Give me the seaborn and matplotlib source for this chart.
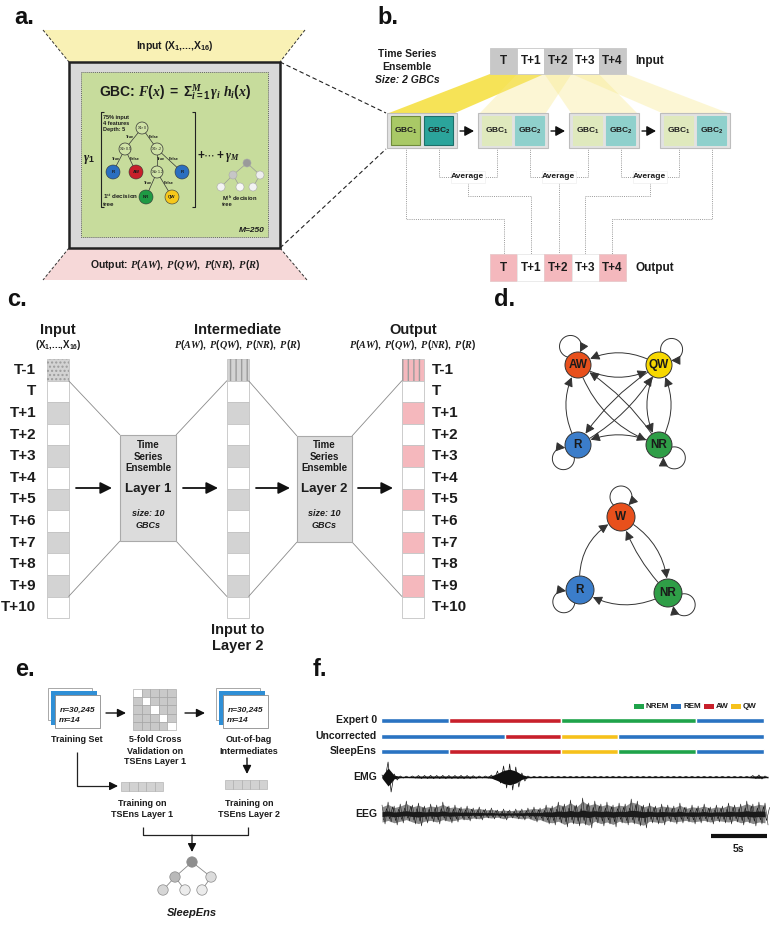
import numpy as np
import pandas as pd
import matplotlib
matplotlib.use("Agg")
import matplotlib.pyplot as plt
from matplotlib.patches import Rectangle, Polygon, Circle, FancyArrowPatch
from matplotlib.path import Path
import seaborn as sns

# ---------------- data ----------------
A_INPUT_LABEL = "Input (X$_1$,...,X$_{16}$)"
A_OUTPUT_LABEL = "Output: $P(AW),\\ P(QW),\\ P(NR),\\ P(R)$"
A_FORMULA = "GBC: $F(x)\\ =\\ \\Sigma_{i=1}^{M}\\,\\gamma_i\\ h_i(x)$"
A_TREE_PARAMS = ["75% input", "4 features", "Depth: 5"]
A_N_TREES = 250

B_CELLS = ["T", "T+1", "T+2", "T+3", "T+4"]
B_INPUT_SHADED = [1, 0, 1, 0, 1]
B_OUTPUT_SHADED = [1, 0, 1, 0, 1]
B_N_WINDOWS = 4
B_GBCS = ["GBC$_1$", "GBC$_2$"]

C_ROWS = ["T-1", "T", "T+1", "T+2", "T+3", "T+4", "T+5", "T+6", "T+7", "T+8", "T+9", "T+10"]
C_SHADED = [1, 0, 1, 0, 1, 0, 1, 0, 1, 0, 1, 0]
C_LAYERS = ["Layer 1", "Layer 2"]
C_LAYER_SIZE = [10, 10]
C_PROBS = "$P(AW),\\ P(QW),\\ P(NR),\\ P(R)$"

D_STATES_4 = ["AW", "QW", "R", "NR"]
D_EDGES_4 = [("AW", "QW", 0.3), ("QW", "AW", 0.3), ("R", "AW", -0.3), ("AW", "NR", 0.25),
             ("NR", "AW", 0.12), ("QW", "R", 0.12), ("R", "QW", 0.15), ("QW", "NR", 0.3),
             ("NR", "QW", 0.3), ("NR", "R", 0.25)]
D_STATES_3 = ["W", "R", "NR"]
D_EDGES_3 = [("R", "W", -0.35), ("W", "NR", -0.3), ("NR", "W", -0.12), ("NR", "R", -0.3)]
D_COLORS = {"AW": "#e8501c", "W": "#e8501c", "QW": "#f7d800", "R": "#3b7dca", "NR": "#2f9e47"}

E_N = "n=30,245"
E_M = "m=14"
E_FOLDS = 5

F_STAGE_NAMES = ["NREM", "REM", "AW", "QW"]
F_STAGE_COLORS = ["#1fa34a", "#2a73c2", "#c8202b", "#f6c11b"]
F_ROWS = ["Expert 0", "Uncorrected", "SleepEns"]
F_EXPERT0_STAGES = ["REM", "AW", "NREM", "REM"]
F_EXPERT0_EPOCHS = [6, 10, 12, 6]
F_UNCORR_STAGES = ["REM", "AW", "QW", "REM"]
F_UNCORR_EPOCHS = [11, 5, 5, 13]
F_SLEEPENS_STAGES = ["REM", "AW", "QW", "NREM", "REM"]
F_SLEEPENS_EPOCHS = [6, 10, 5, 7, 6]
F_EMG_AMP = [2, 15, 3, 1.0, 0.8, 1.0, 1.5, 1.5, 1.6, 1.5, 1.6, 1.5, 1.5, 1.6, 1.5, 1.3, 1.0, 1.0, 2.0, 6,
             11, 13, 10, 4, 1.0, 0.7, 0.7, 0.7, 0.7, 0.7, 0.7, 0.7, 0.7, 0.7, 0.7, 0.7, 0.7, 0.7, 0.7, 0.7,
             0.7, 0.7, 0.7, 0.7, 0.7, 0.7, 0.7, 0.7, 0.7, 0.7, 0.7, 0.7, 0.7, 0.7, 0.7, 0.7, 0.7, 0.7, 0.7, 0.7,
             0.7, 1.5, 2.0, 1.0]
F_EEG_UP = [9, 12, 8, 10, 13, 9, 11, 8, 10, 9, 12, 8, 9, 7, 8, 6, 7, 5, 6, 4,
            5, 4, 5, 5, 6, 7, 6, 9, 8, 12, 10, 14, 9, 16, 11, 13, 10, 12, 9, 11,
            10, 15, 13, 9, 11, 8, 10, 9, 8, 11, 7, 9, 8, 10, 7, 9, 8, 11, 9, 10,
            13, 10, 12, 11]
F_EEG_DN = [10, 8, 11, 9, 7, 10, 12, 9, 8, 10, 7, 9, 8, 6, 7, 5, 6, 4, 5, 4,
            6, 4, 5, 6, 5, 8, 7, 10, 11, 9, 13, 10, 12, 11, 14, 9, 12, 10, 13, 9,
            11, 10, 12, 14, 9, 10, 11, 8, 10, 9, 8, 10, 9, 8, 10, 8, 9, 10, 8, 11,
            9, 12, 10, 11]
F_TOTAL_S = 34
F_SCALE_S = 5

# ---------------- style ----------------
sns.set_theme(style="white")
plt.rcParams['font.family'] = ['Liberation Sans', 'DejaVu Sans']
plt.rcParams['mathtext.fontset'] = 'custom'
plt.rcParams['mathtext.rm'] = 'Liberation Sans:bold'
plt.rcParams['mathtext.bf'] = 'Liberation Sans:bold'
plt.rcParams['mathtext.sf'] = 'Liberation Sans:bold'
plt.rcParams['mathtext.it'] = 'Liberation Serif:italic:bold'

fig = plt.figure(figsize=(7.77, 9.25), dpi=100)
ax = fig.add_axes([0, 0, 1, 1])
INK = '#1c1c1c'


def box(x0, y0, x1, y1, fc='none', ec='none', lw=0.8, ls='-', z=2, hatch=None):
    ax.add_patch(Rectangle((x0, y0), x1 - x0, y1 - y0, facecolor=fc, edgecolor=ec,
                           lw=lw, ls=ls, zorder=z, hatch=hatch))


def txt(x, y, s, fs=7, w='bold', ha='center', va='center', style='normal', color=INK, z=8, **kw):
    ax.text(x, y, s, fontsize=fs, fontweight=w, ha=ha, va=va, style=style, color=color,
            zorder=z, **kw)


def seg(xs, ys, color='k', lw=0.8, ls='-', z=3):
    ax.plot(xs, ys, color=color, lw=lw, ls=ls, zorder=z, solid_capstyle='butt')


def arrow(x0, y0, x1, y1, lw=1.3, color='#111', z=5, hl=0.6, hw=0.3, ms=10):
    ax.add_patch(FancyArrowPatch((x0, y0), (x1, y1),
                                 arrowstyle=f'-|>,head_length={hl},head_width={hw}',
                                 mutation_scale=ms, lw=lw, color=color, zorder=z,
                                 shrinkA=0, shrinkB=0))


def panel_label(x, y, s):
    txt(x, y, s, fs=17, color='#111')


# =============== panel a ===============
panel_label(24, 17, "a.")
ax.add_patch(Polygon([(43, 30), (305, 30), (280, 62), (69, 62)], fc='#f9f1b5', ec='none', zorder=1))
ax.add_patch(Polygon([(69, 248), (280, 248), (307, 280), (43, 280)], fc='#f6d8d8', ec='none', zorder=1))
for (xa, ya, xb, yb) in [(43, 30, 69, 62), (305, 30, 280, 62), (69, 248, 43, 280), (280, 248, 307, 280)]:
    seg([xa, xb], [ya, yb], color='#333', lw=0.7, ls=(0, (3, 2)))
txt(175, 46, A_INPUT_LABEL, fs=7.5)
txt(175, 265, A_OUTPUT_LABEL, fs=7.5)
box(69, 62, 280, 248, fc='#d9d9d9', ec='#222', lw=1.8, z=2)
box(81, 72, 268, 237, fc='#c7dc9c', ec='#666', lw=0.7, ls=(0, (1, 1)), z=3)
txt(175, 92, A_FORMULA, fs=10)
# brackets
seg([104, 101, 101, 104], [112, 112, 207, 207], color='#222', lw=0.8, z=4)
seg([192, 195, 195, 192], [112, 112, 207, 207], color='#222', lw=0.8, z=4)
txt(89, 160, "$\\gamma_1$", fs=9)
for i, s in enumerate(A_TREE_PARAMS):
    txt(103, 117 + 6.3 * i, s, fs=4, ha='left')
# first decision tree
tree_nodes = {"r": (142, 128, "X$_1$>0"), "a": (125, 149, "X$_2$>0.5"), "b": (157, 149, "X$_3$>-2"),
              "c": (157, 172, "X$_4$>1.2")}
tree_leaves = {"R1": (113, 172, "R", "#2a6fc0"), "AW": (136, 172, "AW", "#c8202b"),
               "R2": (182, 172, "R", "#2a6fc0"), "NR": (146, 197, "NR", "#1f9a44"),
               "QW": (172, 197, "QW", "#f6c81b")}
tree_edges = [("r", "a", "True"), ("r", "b", "False"), ("a", "R1", "True"), ("a", "AW", "False"),
              ("b", "c", "True"), ("b", "R2", "False"), ("c", "NR", "True"), ("c", "QW", "False")]


def tpos(k):
    return tree_nodes[k][:2] if k in tree_nodes else tree_leaves[k][:2]


for a_, b_, lab in tree_edges:
    (xa, ya), (xb, yb) = tpos(a_), tpos(b_)
    seg([xa, xb], [ya, yb], color='#333', lw=0.5, z=4)
    txt((xa + xb) / 2 + (-3 if xb < xa else 4), (ya + yb) / 2 - 2, lab, fs=2.8)
for k, (x, y, lab) in tree_nodes.items():
    ax.add_patch(Circle((x, y), 6, fc='#cfe2a6', ec='#333', lw=0.5, zorder=5))
    txt(x, y, lab, fs=2.6, w='normal')
for k, (x, y, lab, c) in tree_leaves.items():
    ax.add_patch(Circle((x, y), 7, fc=c, ec='#333', lw=0.4, zorder=5))
    txt(x, y, lab, fs=3.2)
txt(103, 197, "1$^{st}$ decision", fs=4.5, ha='left')
txt(103, 204, "tree", fs=4.5, ha='left')
txt(218, 157, "$+\\cdots+\\gamma_M$", fs=8.5)
# M-th tree (small, gray)
mt = {"r": (247, 163, '#9a9a9a'), "a": (233, 175, '#c6c6c6'), "b": (260, 175, '#eeeeee'),
      "c": (221, 187, '#f3f3f3'), "d": (240, 187, '#f8f8f8'), "e": (253, 187, '#f3f3f3')}
for a_, b_ in [("r", "a"), ("r", "b"), ("a", "c"), ("a", "d"), ("b", "e")]:
    seg([mt[a_][0], mt[b_][0]], [mt[a_][1], mt[b_][1]], color='#999', lw=0.5, z=4)
for k, (x, y, c) in mt.items():
    ax.add_patch(Circle((x, y), 4, fc=c, ec='#aaa', lw=0.4, zorder=5))
txt(222, 198, "M$^{th}$ decision", fs=4.2, ha='left')
txt(222, 205, "tree", fs=4.2, ha='left')
txt(265, 230, f"M={A_N_TREES}", fs=6, ha='right', style='italic')
# zoom connectors to panel b
seg([280, 386], [62, 113], color='#222', lw=0.8, ls=(0, (4, 2.5)))
seg([280, 386], [248, 149], color='#222', lw=0.8, ls=(0, (4, 2.5)))

# =============== panel b ===============
panel_label(388, 17, "b.")
txt(407, 54, "Time Series", fs=7.5)
txt(407, 67, "Ensemble", fs=7.5)
txt(407, 80, "Size: 2 GBCs", fs=7.5, style='italic')
CW = 27.2
cx0 = 490
cell_left = [cx0 + CW * i for i in range(len(B_CELLS))]
for i, lab in enumerate(B_CELLS):
    box(cell_left[i], 48, cell_left[i] + CW, 74, fc='#c8c8c8' if B_INPUT_SHADED[i] else 'white',
        ec='#c8c8c8', lw=0.6, z=4)
    txt(cell_left[i] + CW / 2, 61, lab, fs=8.5)
    box(cell_left[i], 254, cell_left[i] + CW, 281, fc='#f4b8bd' if B_OUTPUT_SHADED[i] else 'white',
        ec='#e8c8ca' if B_OUTPUT_SHADED[i] else '#e8e8e8', lw=0.6, z=4)
    txt(cell_left[i] + CW / 2, 268, lab, fs=8.5)
txt(650, 61, "Input", fs=8.5)
txt(655, 268, "Output", fs=8.5)
gx = [387 + 91 * g for g in range(B_N_WINDOWS)]
GW = 70
# yellow beams
for g in range(B_N_WINDOWS):
    top_l, top_r = cell_left[g], cell_left[g + 1] + CW
    ax.add_patch(Polygon([(top_l, 74), (top_r, 74), (gx[g] + GW - 2, 113), (gx[g] + 2, 113)],
                         fc='#f5df3a' if g == 0 else '#f8e884', alpha=0.85 if g == 0 else 0.35,
                         ec='none', zorder=2))
for g in range(B_N_WINDOWS):
    box(gx[g], 113, gx[g] + GW, 148, fc='#e2e2e2', ec='#bdbdbd', lw=0.8, z=4)
    c1 = ('#a9c966', '#6f8b3b') if g == 0 else ('#dfe9bd', '#dfe9bd')
    c2 = ('#2ba49b', '#1d6f69') if g == 0 else ('#8fd0cc', '#8fd0cc')
    box(gx[g] + 4, 116, gx[g] + 33, 145, fc=c1[0], ec=c1[1], lw=0.8, z=5)
    box(gx[g] + 37, 116, gx[g] + 66, 145, fc=c2[0], ec=c2[1], lw=0.8, z=5)
    txt(gx[g] + 18.5, 131, B_GBCS[0], fs=6)
    txt(gx[g] + 51.5, 131, B_GBCS[1], fs=6)
    if g < B_N_WINDOWS - 1:
        arrow(gx[g] + GW + 3, 131, gx[g + 1] - 4, 131, lw=1.0, hl=0.55, hw=0.3)
DOT = dict(color='#9a9a9a', lw=0.7, ls=(0, (1, 1.2)), z=3)
cell_c = [c + CW / 2 for c in cell_left]
for g in range(B_N_WINDOWS - 1):
    ax_c = (gx[g] + GW + gx[g + 1]) / 2
    box(ax_c - 17, 171, ax_c + 17, 183, fc='white', ec='#eeeeee', lw=0.5, z=5)
    txt(ax_c, 177, "Average", fs=6)
    seg([gx[g] + 51.5, gx[g] + 51.5, ax_c - 17], [145, 177, 177], **DOT)
    seg([gx[g + 1] + 18.5, gx[g + 1] + 18.5, ax_c + 17], [145, 177, 177], **DOT)
    tgt = cell_c[g + 1]
    if abs(tgt - ax_c) < 3:
        seg([ax_c, ax_c], [183, 254], **DOT)
    else:
        seg([ax_c, ax_c, tgt, tgt], [183, 196, 196, 254], **DOT)
seg([gx[0] + 18.5, gx[0] + 18.5, cell_c[0], cell_c[0]], [145, 219, 219, 254], **DOT)
seg([gx[-1] + 51.5, gx[-1] + 51.5, cell_c[-1], cell_c[-1]], [145, 219, 219, 254], **DOT)

# =============== panel c ===============
panel_label(17, 300, "c.")
RY0, RH = 359, 21.6
cols = {"in": 47, "mid": 227, "out": 402}
CWc = 21.5
for key, x0 in cols.items():
    for i, lab in enumerate(C_ROWS):
        y0 = RY0 + RH * i
        if key == "out":
            fc = '#f5b8bd' if C_SHADED[i] else 'white'
        else:
            fc = '#d3d3d3' if C_SHADED[i] else 'white'
        box(x0, y0, x0 + CWc, y0 + RH, fc=fc, ec='#c4c4c4', lw=0.6, z=3)
        if i == 0:
            box(x0, y0, x0 + CWc, y0 + RH, fc='none', ec='#9c9c9c', lw=0,
                hatch='....' if key == "in" else '|||', z=3.5)
txt(58, 330, "Input", fs=10.5)
txt(58, 345, "(X$_1$,...,X$_{16}$)", fs=7)
txt(238, 330, "Intermediate", fs=10.5)
txt(238, 345, C_PROBS, fs=7.3)
txt(413, 330, "Output", fs=10.5)
txt(413, 345, C_PROBS, fs=7.3)
for i, lab in enumerate(C_ROWS):
    yc = RY0 + RH * (i + 0.5)
    txt(36, yc, lab, fs=11, ha='right')
    txt(432, yc, lab, fs=11, ha='left')
layer_boxes = [(120, 435, 176, 541), (297, 436, 352, 542)]
ytop, ybot = RY0 + RH, RY0 + RH * 11
srcs = [cols["in"] + CWc, cols["mid"] + CWc]
dsts = [cols["mid"], cols["out"]]
for k, (x0, y0, x1, y1) in enumerate(layer_boxes):
    box(x0, y0, x1, y1, fc='#dcdcdc', ec='#aaaaaa', lw=0.8, z=4)
    xc = (x0 + x1) / 2
    txt(xc, 445, "Time", fs=7)
    txt(xc, 457, "Series", fs=7)
    txt(xc, 468, "Ensemble", fs=7)
    txt(xc, 489, C_LAYERS[k], fs=9.5)
    txt(xc, 513, f"size: {C_LAYER_SIZE[k]}", fs=6.5, style='italic')
    txt(xc, 525, "GBCs", fs=6.5, style='italic')
    seg([srcs[k], x0], [ytop, y0], color='#8a8a8a', lw=0.6)
    seg([srcs[k], x0], [ybot, y1], color='#8a8a8a', lw=0.6)
    seg([x1, dsts[k]], [y0, ytop], color='#8a8a8a', lw=0.6)
    seg([x1, dsts[k]], [y1, ybot], color='#8a8a8a', lw=0.6)
for (xa, xb) in [(76, 112), (183, 218), (256, 290), (358, 393)]:
    arrow(xa, 488, xb, 488, lw=1.3, hl=0.7, hw=0.35)
txt(238, 630, "Input to", fs=10.5)
txt(238, 646, "Layer 2", fs=10.5)

# =============== panel d ===============
panel_label(505, 300, "d.")


def draw_graph(pos, edges, loops, r):
    sh = r * 72 / 100 + 0.5
    for a_, b_, rad in edges:
        ax.add_patch(FancyArrowPatch(pos[a_], pos[b_], connectionstyle=f"arc3,rad={rad}",
                                     arrowstyle='-|>,head_length=0.55,head_width=0.28',
                                     mutation_scale=10, lw=0.7, color='#333', zorder=4,
                                     shrinkA=sh, shrinkB=sh))
    rl = 11
    for k, ang in loops.items():
        cx, cy = pos[k]
        t = np.deg2rad(ang)
        d = 20
        Lx, Ly = cx + d * np.cos(t), cy + d * np.sin(t)
        a = (r ** 2 - rl ** 2 + d ** 2) / (2 * d)
        beta = np.arccos(np.clip((d - a) / rl, -1, 1))
        phi = np.arctan2(cy - Ly, cx - Lx)
        th = np.linspace(phi + beta, phi + 2 * np.pi - beta, 50)
        pts = np.column_stack([Lx + rl * np.cos(th), Ly + rl * np.sin(th)])
        ax.add_patch(FancyArrowPatch(path=Path(pts), arrowstyle='-|>,head_length=0.55,head_width=0.28',
                                     mutation_scale=10, lw=0.7, color='#333', zorder=4))
    for k, (x, y) in pos.items():
        ax.add_patch(Circle((x, y), r, fc=D_COLORS[k], ec='#333', lw=0.7, zorder=6))
        txt(x, y, k, fs=8.5, color='#1a1a1a')


pos4 = dict(zip(D_STATES_4, [(578, 365), (659, 365), (578, 445), (659, 445)]))
draw_graph(pos4, D_EDGES_4, {"AW": -112, "QW": -51, "R": 137, "NR": 40}, 13)
pos3 = dict(zip(D_STATES_3, [(621, 517), (580, 590), (668, 593)]))
draw_graph(pos3, D_EDGES_3, {"W": -90, "R": 144, "NR": 36}, 14)

# =============== panel e ===============
panel_label(25, 669, "e.")


def stack(x0, y0):
    box(x0, y0, x0 + 44, y0 + 32, fc='white', ec='#9a9a9a', lw=0.6, z=3)
    box(x0 + 3, y0 + 3, x0 + 49, y0 + 37, fc='#2f8fd6', ec='none', z=3.2)
    box(x0 + 7, y0 + 7, x0 + 52, y0 + 40, fc='white', ec='#8a8a8a', lw=0.6, z=3.4)
    txt(x0 + 30, y0 + 22, E_N, fs=6, style='italic')
    txt(x0 + 10.5, y0 + 32, E_M, fs=6, style='italic', ha='left')


stack(48, 688)
stack(216, 688)
txt(77, 740, "Training Set", fs=6.5)
for i, s in enumerate(["5-fold Cross", "Validation on", "TSEns Layer 1"]):
    txt(155, 740 + 11 * i, s, fs=6.5)
for i, s in enumerate(["Out-of-bag", "Intermediates"]):
    txt(249, 740 + 11 * i, s, fs=6.5)
gx0, gy0, gcw, gch = 133, 689, 8.6, 8.2
for rr in range(E_FOLDS):
    for cc in range(E_FOLDS):
        box(gx0 + cc * gcw, gy0 + rr * gch, gx0 + (cc + 1) * gcw, gy0 + (rr + 1) * gch,
            fc='white' if rr == cc else '#c9c9c9', ec='#9e9e9e', lw=0.4, z=3)
arrow(106, 713, 126, 713, lw=1.0, hl=0.5, hw=0.25)
arrow(185, 713, 205, 713, lw=1.0, hl=0.5, hw=0.25)
arrow(247, 758, 247, 774, lw=1.0, hl=0.5, hw=0.25)
for (sx0, sy0) in [(121, 782), (225, 780)]:
    for k in range(E_FOLDS):
        box(sx0 + k * 8.4, sy0, sx0 + (k + 1) * 8.4, sy0 + 9, fc='#d2d2d2', ec='#a8a8a8', lw=0.4, z=3)
seg([77, 77, 112], [752, 786, 786], color='#222', lw=0.9)
arrow(110, 786, 118, 786, lw=0.9, hl=0.5, hw=0.25)
for i, s in enumerate(["Training on", "TSEns Layer 1"]):
    txt(142, 803 + 11.5 * i, s, fs=6.5)
for i, s in enumerate(["Training on", "TSEns Layer 2"]):
    txt(249, 803 + 11.5 * i, s, fs=6.5)
seg([143, 143, 248, 248], [827, 835, 835, 827], color='#222', lw=0.9)
arrow(192, 835, 192, 852, lw=0.9, hl=0.5, hw=0.25)
st = {"r": (192, 862, '#8e8e8e'), "a": (175, 877, '#b9b9b9'), "b": (211, 877, '#dcdcdc'),
      "c": (163, 890, '#d6d6d6'), "d": (185, 890, '#ececec'), "e": (202, 890, '#ececec')}
for a_, b_ in [("r", "a"), ("r", "b"), ("a", "c"), ("a", "d"), ("b", "e")]:
    seg([st[a_][0], st[b_][0]], [st[a_][1], st[b_][1]], color='#888', lw=0.6, z=3)
for k, (x, y, c) in st.items():
    ax.add_patch(Circle((x, y), 5.2, fc=c, ec='#8a8a8a', lw=0.5, zorder=5))
txt(192, 913, "SleepEns", fs=8, style='italic')

# =============== panel f ===============
panel_label(320, 669, "f.")
FX0 = 381
PXS = 383 / F_TOTAL_S
stage_color = dict(zip(F_STAGE_NAMES, F_STAGE_COLORS))
rows = [(F_EXPERT0_STAGES, F_EXPERT0_EPOCHS), (F_UNCORR_STAGES, F_UNCORR_EPOCHS),
        (F_SLEEPENS_STAGES, F_SLEEPENS_EPOCHS)]
row_y = [720, 736, 751]
recs = []
for r_i, (stages, epochs) in enumerate(rows):
    left = 0
    for s, e in zip(stages, epochs):
        recs.append(dict(row=F_ROWS[r_i], y=row_y[r_i], left=left, width=e, stage=s))
        left += e
hyp = pd.DataFrame(recs)
ax.barh(hyp["y"], hyp["width"] * PXS, left=FX0 + hyp["left"] * PXS, height=5,
        color=[stage_color[s] for s in hyp["stage"]], zorder=3)
for r_i, lab in enumerate(F_ROWS):
    txt(377, row_y[r_i], lab, fs=7.5, ha='right')
lx = 634
for name, col in zip(F_STAGE_NAMES, F_STAGE_COLORS):
    box(lx, 704, lx + 10, 708.5, fc=col, z=3)
    ax.text(lx + 12, 706.5, name, fontsize=5.8, fontweight='bold', ha='left', va='center', color=INK)
    lx += {"NREM": 37, "REM": 33, "AW": 27, "QW": 27}[name]
# traces
n = len(F_EMG_AMP)
tx = FX0 + 1 + np.linspace(0, F_TOTAL_S, n) * PXS
half = PXS * F_TOTAL_S / (n - 1) / 2
emg_y0 = 777
amp = np.array(F_EMG_AMP, float)
ax.fill_between(tx, emg_y0 - amp * 0.6, emg_y0 + amp * 0.6, color='#111', lw=0, zorder=3)
zx = np.ravel(np.column_stack([tx, tx + half]))
zy_emg = np.ravel(np.column_stack([emg_y0 - amp, emg_y0 + amp]))
sns.lineplot(x=zx, y=zy_emg, sort=False, estimator=None, ax=ax, color='#111', lw=0.5, zorder=4)
seg([tx[0], tx[-1] + 3], [emg_y0, emg_y0], color='#111', lw=1.0, z=4)
txt(377, 777, "EMG", fs=7.5, ha='right')
eeg_y0 = 814
up = np.array(F_EEG_UP, float)
dn = np.array(F_EEG_DN, float)
ax.fill_between(tx, eeg_y0 - up * 0.8, eeg_y0 + dn * 0.8, color='#8c8c8c', lw=0, zorder=3)
zy_eeg = np.ravel(np.column_stack([eeg_y0 - up, eeg_y0 + dn]))
sns.lineplot(x=zx, y=zy_eeg, sort=False, estimator=None, ax=ax, color='#222', lw=0.4, zorder=4)
zy_eeg2 = np.ravel(np.column_stack([eeg_y0 + dn * 0.6, eeg_y0 - up * 0.6]))
sns.lineplot(x=zx + half / 2, y=zy_eeg2, sort=False, estimator=None, ax=ax, color='#111', lw=0.4, zorder=4)
ax.fill_between(tx, eeg_y0 - up * 0.25, eeg_y0 + dn * 0.25, color='#1a1a1a', lw=0, zorder=4)
txt(377, 814, "EEG", fs=7.5, ha='right')
sb_x1 = 767
seg([sb_x1 - F_SCALE_S * PXS, sb_x1], [836, 836], color='#111', lw=3)
txt(sb_x1 - F_SCALE_S * PXS / 2, 849, f"{F_SCALE_S}s", fs=7.5)

ax.set_xlim(0, 777)
ax.set_ylim(925, 0)
ax.axis('off')
if ax.get_legend() is not None:
    ax.get_legend().remove()
fig.savefig("out.png", dpi=100, facecolor='white')
